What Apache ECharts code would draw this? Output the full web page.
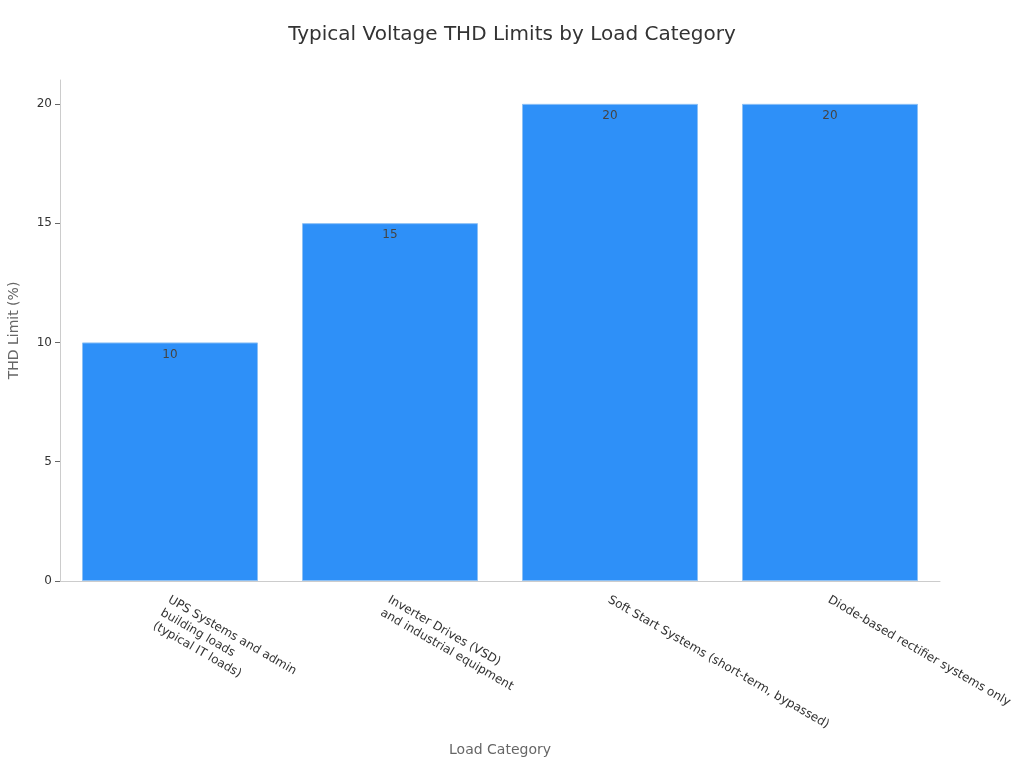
<!DOCTYPE html>
<html>
<head>
<meta charset="utf-8">
<script src="https://cdn.jsdelivr.net/npm/echarts@6/dist/echarts.min.js"></script>
<style>
  html, body { margin: 0; padding: 0; background: #fff; }
  #chart { width: 1024px; height: 768px; }
</style>
</head>
<body>
<div id="chart"></div>
<script>
// categorías y límites THD
const categories = [
    "UPS Systems and admin\nbuilding loads\n(typical IT loads)",
    "Inverter Drives (VSD)\nand industrial equipment",
    "Soft Start Systems (short-term, bypassed)",
    "Diode-based rectifier systems only"
];
const thdLimits = [10, 15, 20, 20];

const chart = echarts.init(document.getElementById("chart"));
const font = "DejaVu Sans";

const option = {
    backgroundColor: "#ffffff",
    title: {
        text: "Typical Voltage THD Limits by Load Category",
        left: "center",
        top: 20,
        textStyle: { fontFamily: font, fontSize: 20, fontWeight: "normal", color: "#333" }
    },
    grid: { left: 60, right: 84, top: 80, bottom: 187, outerBoundsMode: "none", containLabel: false },
    xAxis: {
        type: "category",
        data: categories,
        name: "Load Category",
        nameLocation: "middle",
        nameGap: 162,
        nameTextStyle: { fontFamily: font, fontSize: 14, color: "#666" },
        axisLine: { lineStyle: { color: "#ccc" } },
        axisTick: { alignWithLabel: true, lineStyle: { color: "#666" } },
        axisLabel: {
            rotate: -30,
            interval: 0,
            fontFamily: font,
            fontSize: 12,
            lineHeight: 15,
            color: "#333",
            verticalAlign: "top",
            padding: [0, 0, 0, 3],
            margin: 10
        }
    },
    yAxis: {
        type: "value",
        min: 0,
        max: 21,
        interval: 5,
        name: "THD Limit (%)",
        nameLocation: "middle",
        nameGap: 39,
        nameTextStyle: { fontFamily: font, fontSize: 14, color: "#666" },
        axisLine: { show: true, lineStyle: { color: "#ccc" } },
        axisTick: { show: true, lineStyle: { color: "#666" } },
        axisLabel: { fontFamily: font, fontSize: 12, color: "#333", showMaxLabel: false },
        splitLine: { show: false }
    },
    series: [
        {
            name: "THD Limit",
            type: "bar",
            data: thdLimits,
            barWidth: "80%",
            itemStyle: { color: "#2e90f8", borderColor: "#8cc0f5", borderWidth: 1 },
            label: {
                show: true,
                position: "insideTop",
                distance: 6,
                fontFamily: font,
                fontSize: 12,
                color: "#444"
            }
        }
    ]
};

chart.setOption(option);
</script>
</body>
</html>
